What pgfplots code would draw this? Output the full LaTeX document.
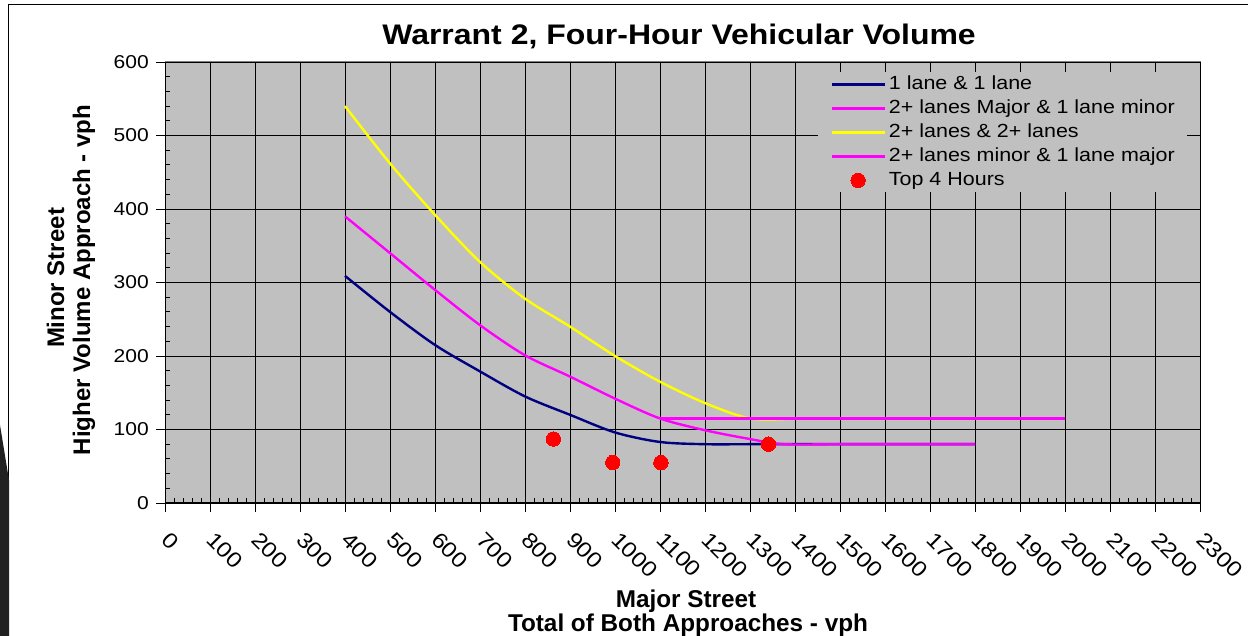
\documentclass[border=0pt]{standalone}
\usepackage{pgfplots}
\pgfplotsset{compat=1.18}
\usepackage{fontspec}
\setmainfont{Liberation Sans}
\newfontfamily\wfont[FakeStretch=1.13]{Liberation Sans}
\definecolor{plotgray}{HTML}{C0C0C0}
\definecolor{navyc}{HTML}{000080}
\definecolor{magc}{HTML}{FF00FF}
\definecolor{yelc}{HTML}{FFFF00}
\definecolor{redc}{HTML}{FF0000}
\definecolor{framegray}{HTML}{808080}

\pgfplotsset{
  linelegend/.style={legend image code/.code={\draw[##1] (0pt,0pt) -- (53pt,0pt);}},
  dotlegend/.style={legend image code/.code={\draw[##1] plot coordinates {(26.5pt,0pt)};}},
}

\pgfplotstableread{
x y
400 309
500 260
600 215
700 179
800 145
900 120
1000 96
1100 83
1200 80
1300 80
1400 80
1500 80
1600 80
1700 80
1800 80
}\navydata

\pgfplotstableread{
x y
400 390
500 340
600 290
700 242
800 201
900 172
1000 142
1100 115
1200 99
1300 87
1375 80
1500 80
1600 80
1700 80
1800 80
}\magonedata

\pgfplotstableread{
x y
400 540
500 462
600 392
700 328
800 278
900 240
1000 200
1100 165
1200 136
1300 115
1400 115
}\yeldata

\pgfplotstableread{
x y
1100 115
2000 115
}\magtwodata

\pgfplotstableread{
x y
863 87
995 55
1102 55
1341 80
}\reddata

\begin{document}
\begin{tikzpicture}
\path[use as bounding box] (0,0) rectangle (1248pt,636pt);
% outer chart frame and slide decoration
\draw[black, line width=1pt] (8pt,0pt) -- (8pt,631pt) -- (1248pt,631pt);
\fill[black!87] (0pt,211pt) -- (9pt,156pt) -- (9pt,0pt) -- (0pt,0pt) -- cycle;

\begin{axis}[
  at={(165pt,133pt)}, anchor=south west,
  scale only axis, width=1035pt, height=441pt,
  xmin=0, xmax=2300, ymin=0, ymax=600,
  xtick={0,100,...,2300}, ytick={0,100,...,600},
  minor x tick num=4, minor y tick num=4,
  grid=major, major grid style={black, line width=0.9pt},
  axis x line=bottom, axis y line=left,
  axis line style={-, black, line width=1pt},
  axis background/.style={fill=plotgray, draw=framegray, line width=1pt},
  tick align=outside,
  major tick length=9pt,
  minor tick length=-5pt,
  tick style={black, line width=0.9pt},
  /pgf/number format/1000 sep={},
  /pgf/number format/assume math mode=true,
  xticklabel style={font=\wfont\fontsize{21.5}{23}\selectfont, xshift=6pt, yshift=-17pt, rotate=-45, anchor=north west, inner sep=1pt},
  yticklabel style={font=\wfont\fontsize{18.6}{20}\selectfont, anchor=east, inner sep=1pt, xshift=-6pt},
  legend style={at={(0.9874,0.977)}, anchor=north east, fill=plotgray, draw=none,
    font=\wfont\fontsize{19}{22}\selectfont,
    nodes={inner sep=0pt, text height=14pt, text depth=4pt},
    row sep=6pt, inner xsep=12pt, inner ysep=3pt,
    cells={anchor=west}},
  linelegend,
  legend cell align=left,
  clip=false,
]
\addplot[navyc, line width=2.4pt, smooth, tension=0.5] table {\navydata};
\addlegendentry{\,1 lane \& 1 lane}
\addplot[magc, line width=2.4pt, smooth, tension=0.5] table {\magonedata};
\addlegendentry{\,2+ lanes Major \& 1 lane minor}
\addplot[yelc, line width=2.4pt, smooth, tension=0.5] table {\yeldata};
\addlegendentry{\,2+ lanes \& 2+ lanes}
\addplot[magc, line width=2.4pt] table {\magtwodata};
\addlegendentry{\,2+ lanes minor \& 1 lane major}
\addplot[only marks, mark=*, mark size=7.2pt, mark options={fill=redc, draw=redc, line width=0pt}, dotlegend] table {\reddata};
\addlegendentry{\,Top 4 Hours}
\end{axis}

% title
\node[anchor=base, font=\wfont\bfseries\fontsize{28.3}{30}\selectfont, inner sep=0pt] at (679pt,591pt) {Warrant 2, Four-Hour Vehicular Volume};
% x label
\node[anchor=base, font=\bfseries\fontsize{24.3}{26}\selectfont, inner sep=0pt] at (686pt,28pt) {Major Street};
\node[anchor=base, font=\bfseries\fontsize{24.3}{26}\selectfont, inner sep=0pt] at (688pt,4pt) {Total of Both Approaches - vph};
% y label
\node[anchor=base, rotate=90, font=\bfseries\fontsize{24}{26}\selectfont, inner sep=0pt] at (64pt,358pt) {Minor Street};
\node[anchor=base, rotate=90, font=\bfseries\fontsize{24}{26}\selectfont, inner sep=0pt] at (90pt,356pt) {Higher Volume Approach - vph};
\end{tikzpicture}
\end{document}
